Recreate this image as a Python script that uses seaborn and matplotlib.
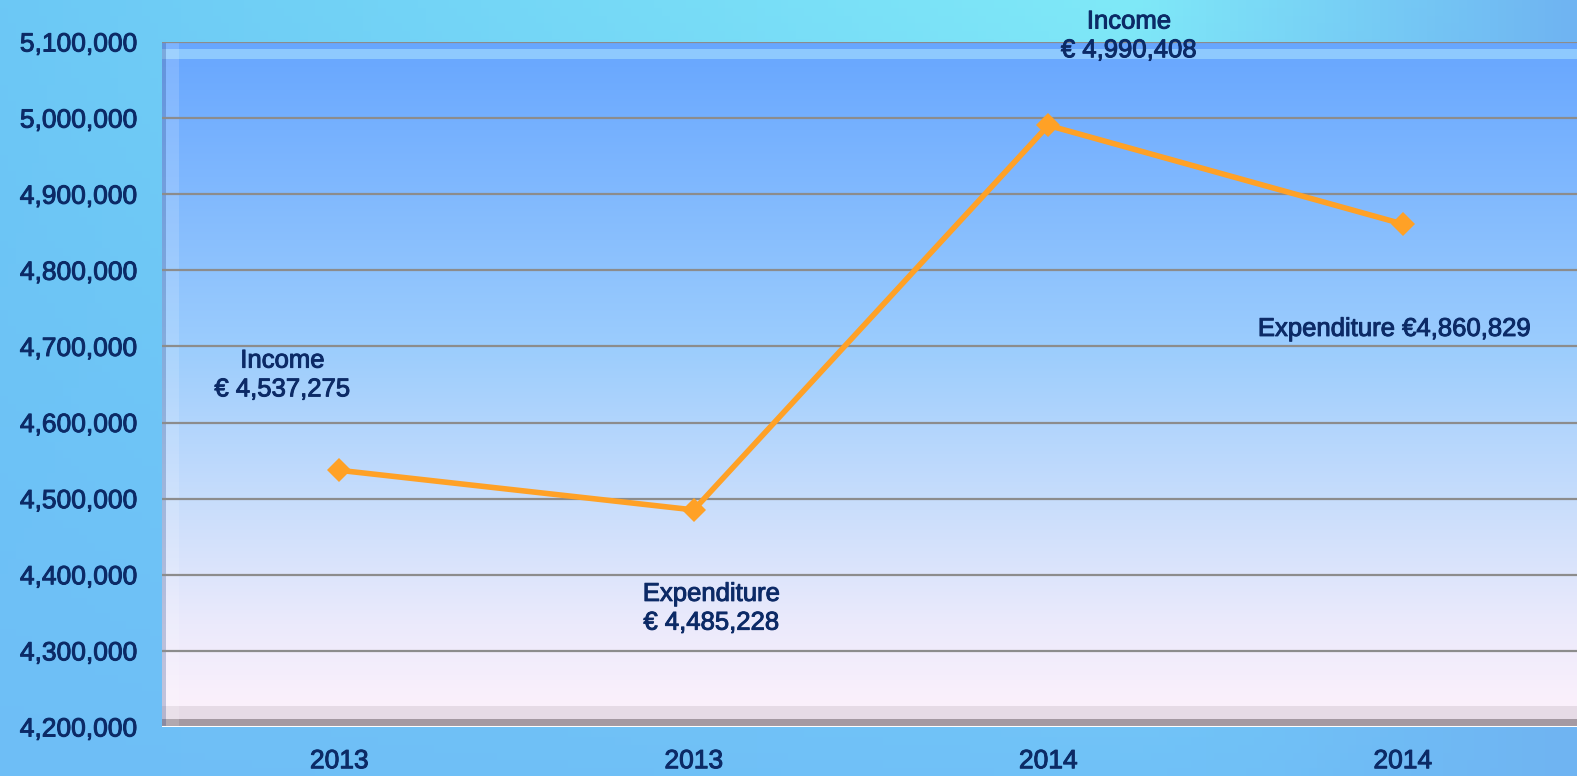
import numpy as np
import pandas as pd
import matplotlib
matplotlib.use("Agg")
import matplotlib.pyplot as plt
import matplotlib.patheffects as pe
import seaborn as sns
from matplotlib.colors import to_rgb

# ---- data ----
categories = ["2013", "2013", "2014", "2014"]
kinds = ["Income", "Expenditure", "Income", "Expenditure"]
values = [4537275, 4485228, 4990408, 4860829]
label_texts = ["Income\n€ 4,537,275", "Expenditure\n€ 4,485,228",
               "Income\n€ 4,990,408", "Expenditure €4,860,829"]
yticks = [4200000, 4300000, 4400000, 4500000, 4600000, 4700000,
          4800000, 4900000, 5000000, 5100000]

df = pd.DataFrame({"pos": range(len(values)), "value": values, "kind": kinds})

sns.set_theme(style="white")
plt.rcParams['font.family'] = ['Liberation Sans', 'DejaVu Sans']

TXT = "#0c2a66"
thick = [pe.withStroke(linewidth=0.7, foreground=TXT)]

W, H = 1577, 776
fig = plt.figure(figsize=(W / 100, H / 100), dpi=100)

# ---- figure background gradient ----
bg = fig.add_axes([0, 0, 1, 1], zorder=-10)
bg.set_axis_off()
nx, ny = 200, 100
xs = np.linspace(0, 1, nx)[None, :, None]
ys = np.linspace(0, 1, ny)[:, None, None]
c_left = np.array(to_rgb("#6cc8f5"))
c_mid = np.array(to_rgb("#7fe9f8"))
c_right = np.array(to_rgb("#6fb4f2"))
c_bot = np.array(to_rgb("#6fbdf7"))
top_row = np.where(xs < 0.72,
                   c_left + (c_mid - c_left) * (xs / 0.72),
                   c_mid + (c_right - c_mid) * ((xs - 0.72) / 0.28))
bot_row = np.where(xs < 0.8, c_bot + 0 * xs,
                   c_bot + (c_right - c_bot) * ((xs - 0.8) / 0.2))
img = top_row * (1 - ys * 0.9) + bot_row * (ys * 0.9)
img = np.clip(img, 0, 1)
bg.imshow(img, aspect="auto", extent=[0, 1, 0, 1], origin="upper")
bg.set_xlim(0, 1)
bg.set_ylim(0, 1)

# ---- main axes ----
left_px, right_px, top_px, bot_px = 162, 1580, 42, 727
ax = fig.add_axes([left_px / W, 1 - bot_px / H,
                   (right_px - left_px) / W, (bot_px - top_px) / H])
ax.set_xlim(-0.5, 3.5)
ax.set_ylim(4200000, 5100000)

# plot area gradient
stops_y = [0.0, 0.45, 0.85, 1.0]  # from top
stops_c = ["#67a6ff", "#9ccdfd", "#ebeafb", "#fff2fc"]
ny2 = 300
t = np.linspace(0, 1, ny2)
cols = np.array([to_rgb(c) for c in stops_c])
grad = np.stack([np.interp(t, stops_y, cols[:, k]) for k in range(3)], axis=1)
grad = grad[:, None, :]
ax.imshow(grad, aspect="auto", extent=[-0.5, 3.5, 4200000, 5100000],
          origin="upper", zorder=0)

# bevel effects
ax.axhspan(5100000 - 900000 * 0.025, 5100000 - 900000 * 0.01, color="#9fd8ff", alpha=0.7, zorder=1, lw=0)
ax.axhspan(4200000, 4200000 + 900000 * 0.012, color="#9a9098", alpha=0.9, zorder=1, lw=0)
ax.axhspan(4200000 + 900000 * 0.012, 4200000 + 900000 * 0.03, color="#d8cdd8", alpha=0.6, zorder=1, lw=0)
ax.axvspan(-0.5, -0.5 + 4 * 0.003, color="#5a70a0", alpha=0.35, zorder=1, lw=0)
ax.axvspan(-0.5 + 4 * 0.003, -0.5 + 4 * 0.012, color="#ffffff", alpha=0.15, zorder=1, lw=0)

# gridlines
for v in yticks:
    ax.axhline(v, color="#8c8c8c", lw=1.6, zorder=2)

sns.lineplot(data=df, x="pos", y="value", ax=ax, color="#ffa126",
             linewidth=4.0, marker="D", markersize=12.5, markeredgewidth=0,
             zorder=5)

# labels
label_x = [-0.16, 1.05, 2.228, 2.977]
label_y = [4662500, 4356000, 5108000, 4723000]
for lx, ly, txt in zip(label_x, label_y, label_texts):
    ax.text(lx, ly, txt, ha="center", va="center", fontsize=18.5,
            color=TXT, linespacing=1.25, zorder=6, clip_on=False,
            path_effects=thick)

ax.set_xticks(range(len(categories)))
ax.set_xticklabels(categories)
ax.set_yticks(yticks)
ax.set_yticklabels([f"{v:,}" for v in yticks])
ax.tick_params(axis="both", labelsize=19, labelcolor=TXT, length=0)
ax.tick_params(axis="y", pad=18)
ax.tick_params(axis="x", pad=16)
for lbl in ax.get_xticklabels() + ax.get_yticklabels():
    lbl.set_path_effects(thick)
ax.set_xlabel("")
ax.set_ylabel("")
for s in ["left", "right", "bottom", "top"]:
    ax.spines[s].set_visible(False)
ax.axhline(4200000, color="white", lw=1.5, zorder=3)
ax.patch.set_alpha(0)

fig.savefig("out.png", dpi=100)
